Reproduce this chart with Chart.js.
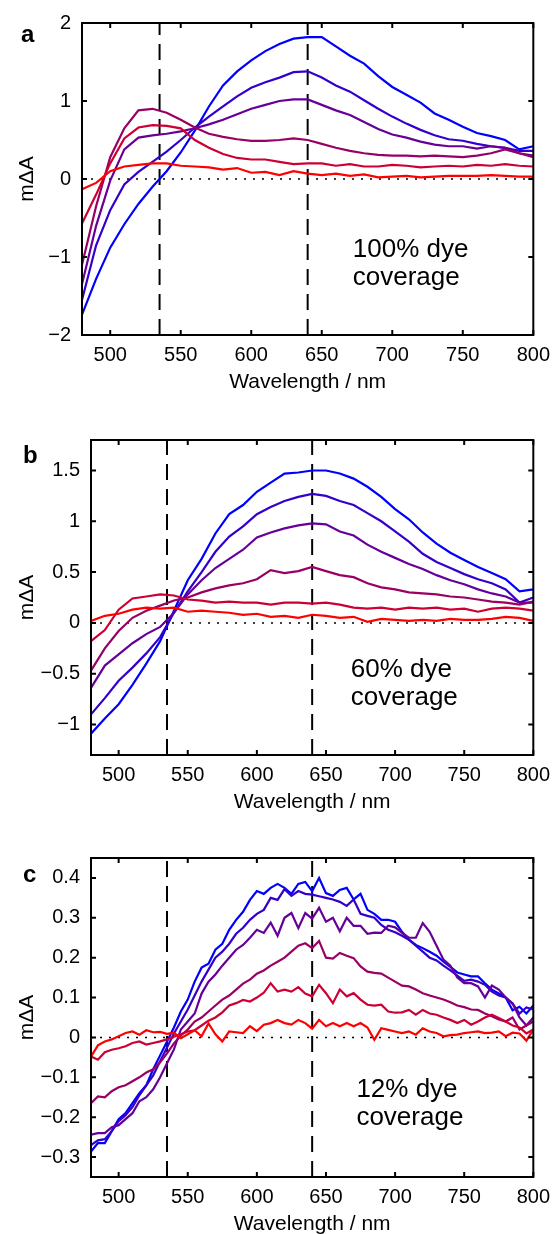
<!DOCTYPE html>
<html>
<head>
<meta charset="utf-8">
<script src="https://cdn.jsdelivr.net/npm/chart.js@4.4.0/dist/chart.umd.min.js"></script>
<style>
html, body { margin: 0; padding: 0; background: #fff; overflow: hidden; }
#wrap { position: relative; width: 558px; height: 1234px; }
canvas { position: absolute; left: 0; }
</style>
</head>
<body>
<div id="wrap">
  <canvas id="ca" width="558" height="400" style="top:0px"></canvas>
  <canvas id="cb" width="558" height="410" style="top:410px"></canvas>
  <canvas id="cc" width="558" height="412" style="top:830px"></canvas>
</div>
<script>
// wavelengths (nm)
const wl10 = [480, 490, 500, 510, 520, 530, 540, 550, 560, 570, 580, 590, 600, 610, 620, 630, 640,
  650, 660, 670, 680, 690, 700, 710, 720, 730, 740, 750, 760, 770, 780, 790, 800];
const wl5 = [480, 485, 490, 495, 500, 505, 510, 515, 520, 525, 530, 535, 540, 545, 550, 555, 560,
  565, 570, 575, 580, 585, 590, 595, 600, 605, 610, 615, 620, 625, 630, 635, 640, 645, 650, 655,
  660, 665, 670, 675, 680, 685, 690, 695, 700, 705, 710, 715, 720, 725, 730, 735, 740, 745, 750,
  755, 760, 765, 770, 775, 780, 785, 790, 795, 800];

const xTicks = [500, 550, 600, 650, 700, 750, 800];
const markerLines = [535, 640];

// panel a: 100% dye coverage
const aRed = [-0.13, -0.05, 0.1, 0.16, 0.18, 0.2, 0.2, 0.17, 0.16, 0.15, 0.12, 0.14, 0.08, 0.09, 0.05, 0.1, 0.07,
  0.05, 0.07, 0.04, 0.06, 0.02, 0.03, 0.04, 0.02, 0.03, 0.04, 0.04, 0.04, 0.05, 0.04, 0.03, 0.03];
const aCrimson = [-0.57, -0.2, 0.2, 0.52, 0.66, 0.69, 0.68, 0.65, 0.5, 0.4, 0.32, 0.27, 0.25, 0.25, 0.22, 0.19, 0.2,
  0.2, 0.17, 0.19, 0.16, 0.16, 0.18, 0.17, 0.15, 0.16, 0.17, 0.16, 0.18, 0.17, 0.19, 0.17, 0.16];
const aMagenta = [-1.1, -0.35, 0.28, 0.65, 0.88, 0.9, 0.85, 0.76, 0.66, 0.58, 0.54, 0.51, 0.49, 0.49, 0.5, 0.52, 0.5,
  0.45, 0.4, 0.36, 0.33, 0.31, 0.3, 0.3, 0.29, 0.3, 0.29, 0.28, 0.3, 0.33, 0.38, 0.33, 0.28];
const aPurple = [-1.35, -0.6, -0.02, 0.38, 0.53, 0.56, 0.58, 0.61, 0.65, 0.7, 0.76, 0.83, 0.9, 0.95, 1.0, 1.02, 1.02,
  0.95, 0.88, 0.82, 0.73, 0.64, 0.57, 0.53, 0.48, 0.44, 0.42, 0.42, 0.39, 0.42, 0.4, 0.33, 0.3];
const aViolet = [-1.55, -0.85, -0.4, -0.07, 0.09, 0.22, 0.35, 0.5, 0.66, 0.8, 0.93, 1.06, 1.17, 1.24, 1.3, 1.37, 1.38,
  1.3, 1.2, 1.12, 1.01, 0.9, 0.8, 0.71, 0.63, 0.56, 0.51, 0.49, 0.45, 0.42, 0.4, 0.36, 0.36];
const aBlue = [-1.74, -1.28, -0.88, -0.58, -0.32, -0.1, 0.1, 0.34, 0.62, 0.93, 1.2, 1.38, 1.52, 1.64, 1.73, 1.8, 1.82,
  1.82, 1.7, 1.58, 1.48, 1.32, 1.18, 1.08, 0.98, 0.84, 0.76, 0.67, 0.59, 0.55, 0.5, 0.38, 0.42];

// panel b: 60% dye coverage
const bRed = [0.02, 0.07, 0.09, 0.13, 0.15, 0.14, 0.15, 0.11, 0.12, 0.11, 0.1, 0.08, 0.09, 0.06, 0.07, 0.05, 0.08,
  0.07, 0.05, 0.06, 0.01, 0.04, 0.03, 0.02, 0.03, 0.02, 0.04, 0.03, 0.03, 0.04, 0.06, 0.05, 0.02];
const bCrimson = [-0.18, -0.07, 0.13, 0.24, 0.26, 0.28, 0.27, 0.23, 0.22, 0.2, 0.21, 0.2, 0.2, 0.18, 0.2, 0.2, 0.19,
  0.2, 0.18, 0.15, 0.14, 0.15, 0.13, 0.15, 0.14, 0.15, 0.13, 0.14, 0.11, 0.14, 0.15, 0.14, 0.12];
const bMagenta = [-0.47, -0.25, -0.08, 0.05, 0.12, 0.17, 0.22, 0.25, 0.3, 0.34, 0.37, 0.39, 0.43, 0.52, 0.49, 0.51, 0.55,
  0.51, 0.47, 0.45, 0.39, 0.35, 0.33, 0.3, 0.29, 0.28, 0.26, 0.25, 0.23, 0.21, 0.2, 0.18, 0.21];
const bPurple = [-0.64, -0.42, -0.31, -0.2, -0.11, -0.04, 0.1, 0.28, 0.42, 0.54, 0.63, 0.72, 0.84, 0.89, 0.93, 0.96, 0.98,
  0.97, 0.9, 0.86, 0.77, 0.7, 0.64, 0.58, 0.53, 0.47, 0.42, 0.38, 0.33, 0.29, 0.26, 0.2, 0.2];
const bViolet = [-0.9, -0.74, -0.57, -0.44, -0.3, -0.14, 0.1, 0.31, 0.5, 0.7, 0.85, 0.95, 1.07, 1.14, 1.2, 1.24, 1.27,
  1.25, 1.2, 1.16, 1.08, 1.0, 0.9, 0.8, 0.68, 0.6, 0.54, 0.48, 0.43, 0.39, 0.33, 0.2, 0.25];
const bBlue = [-1.09, -0.94, -0.8, -0.61, -0.4, -0.18, 0.12, 0.42, 0.63, 0.88, 1.07, 1.16, 1.29, 1.38, 1.47, 1.48, 1.5,
  1.5, 1.47, 1.42, 1.34, 1.24, 1.12, 1.02, 0.89, 0.78, 0.69, 0.62, 0.55, 0.49, 0.43, 0.31, 0.33];

// panel c: 12% dye coverage
const cRed = [-0.048, -0.02, -0.01, -0.005, 0.003, 0.011, 0.015, 0.007, 0.018, 0.013,
  0.014, 0.009, 0.012, -0.002, 0.008, 0.018, 0.003, 0.035, 0.008, -0.01,
  0.015, 0.013, 0.011, 0.028, 0.016, 0.032, 0.036, 0.044, 0.036, 0.032,
  0.044, 0.036, 0.022, 0.044, 0.028, 0.036, 0.028, 0.036, 0.028, 0.036,
  0.025, -0.006, 0.023, 0.019, 0.015, 0.011, 0.015, 0.007, 0.023, 0.015,
  0.011, 0.003, 0.006, 0.007, 0.011, 0.013, 0.015, 0.011, 0.012, 0.015,
  0.003, 0.012, 0.01, -0.008, 0.02];
const cCrimson = [-0.048, -0.056, -0.037, -0.031, -0.027, -0.022, -0.014, -0.01, -0.018, -0.014,
  -0.01, -0.005, 0.002, 0.008, 0.015, 0.018, 0.03, 0.042, 0.05, 0.063,
  0.08, 0.086, 0.094, 0.09, 0.1, 0.112, 0.136, 0.115, 0.12, 0.115,
  0.126, 0.11, 0.103, 0.132, 0.111, 0.086, 0.12, 0.103, 0.111, 0.095,
  0.082, 0.08, 0.082, 0.065, 0.062, 0.063, 0.069, 0.057, 0.069, 0.06,
  0.057, 0.05, 0.044, 0.036, 0.044, 0.032, 0.04, 0.05, 0.057, 0.049,
  0.04, 0.03, 0.025, 0.01, 0.02];
const cMagenta = [-0.165, -0.148, -0.15, -0.135, -0.125, -0.12, -0.11, -0.1, -0.088, -0.08,
  -0.062, -0.04, -0.015, 0.005, 0.02, 0.04, 0.05, 0.065, 0.08, 0.095,
  0.105, 0.12, 0.135, 0.145, 0.16, 0.168, 0.18, 0.19, 0.2, 0.215,
  0.23, 0.236, 0.224, 0.242, 0.2, 0.198, 0.212, 0.205, 0.199, 0.178,
  0.165, 0.162, 0.16, 0.15, 0.14, 0.13, 0.128, 0.12, 0.111, 0.105,
  0.1, 0.095, 0.088, 0.08, 0.076, 0.07, 0.069, 0.06, 0.053, 0.045,
  0.04, 0.05, 0.02, 0.03, 0.04];
const cPurple = [-0.244, -0.24, -0.24, -0.225, -0.22, -0.205, -0.19, -0.16, -0.15, -0.13,
  -0.1, -0.065, -0.03, 0.02, 0.04, 0.06, 0.11, 0.14, 0.158, 0.18,
  0.2, 0.22, 0.232, 0.25, 0.27, 0.262, 0.288, 0.255, 0.3, 0.312,
  0.274, 0.312, 0.298, 0.325, 0.29, 0.3, 0.266, 0.3, 0.28, 0.28,
  0.26, 0.263, 0.262, 0.28, 0.276, 0.262, 0.25, 0.25, 0.287, 0.265,
  0.23, 0.195, 0.18, 0.15, 0.136, 0.136, 0.128, 0.1, 0.13, 0.12,
  0.1, 0.085, 0.05, 0.03, 0.05];
const cViolet = [-0.27, -0.258, -0.255, -0.235, -0.21, -0.195, -0.175, -0.145, -0.12, -0.095,
  -0.06, -0.025, 0.01, 0.04, 0.07, 0.105, 0.14, 0.17, 0.2, 0.215,
  0.235, 0.26, 0.275, 0.295, 0.31, 0.32, 0.35, 0.345, 0.372, 0.355,
  0.367, 0.36, 0.358, 0.354, 0.35, 0.346, 0.34, 0.33, 0.346, 0.31,
  0.305, 0.3, 0.282, 0.27, 0.264, 0.255, 0.245, 0.23, 0.215, 0.2,
  0.193, 0.18, 0.168, 0.155, 0.142, 0.145, 0.14, 0.132, 0.115, 0.105,
  0.1, 0.085, 0.06, 0.075, 0.07];
const cBlue = [-0.286, -0.265, -0.265, -0.235, -0.205, -0.19, -0.165, -0.14, -0.12, -0.08,
  -0.045, -0.01, 0.025, 0.065, 0.095, 0.14, 0.175, 0.185, 0.22, 0.235,
  0.27, 0.295, 0.315, 0.345, 0.367, 0.36, 0.375, 0.385, 0.375, 0.36,
  0.385, 0.39, 0.367, 0.4, 0.362, 0.355, 0.37, 0.375, 0.346, 0.36,
  0.32, 0.31, 0.295, 0.295, 0.29, 0.265, 0.245, 0.232, 0.224, 0.215,
  0.205, 0.19, 0.177, 0.163, 0.158, 0.153, 0.153, 0.136, 0.12, 0.11,
  0.1, 0.068, 0.077, 0.06, 0.08];

// y tick values and labels
const aYTicks = [-2, -1, 0, 1, 2];
const aYLabels = ['\u22122', '\u22121', '0', '1', '2'];
const bYTicks = [-1, -0.5, 0, 0.5, 1, 1.5];
const bYLabels = ['\u22121', '\u22120.5', '0', '0.5', '1', '1.5'];
const cYTicks = [-0.3, -0.2, -0.1, 0, 0.1, 0.2, 0.3, 0.4];
const cYLabels = ['\u22120.3', '\u22120.2', '\u22120.1', '0', '0.1', '0.2', '0.3', '0.4'];

const seriesColors = ['#ff0000', '#cc0033', '#990066', '#660099', '#3300cc', '#0000ff'];

const FONT = "'Liberation Sans', Arial, Helvetica, sans-serif";
Chart.defaults.font.family = FONT;
Chart.defaults.color = '#000';

const framePlugin = {
  id: 'frame',
  afterDatasetsDraw(chart, args, opts) {
    const { ctx, chartArea: a, scales } = chart;
    const x = scales.x, y = scales.y;
    ctx.save();
    ctx.strokeStyle = '#000';
    ctx.lineWidth = 2;
    ctx.strokeRect(a.left, a.top, a.right - a.left, a.bottom - a.top);
    ctx.beginPath();
    const tl = 5;
    x.ticks.forEach(t => {
      const px = x.getPixelForValue(t.value);
      ctx.moveTo(px, a.bottom); ctx.lineTo(px, a.bottom - tl);
      ctx.moveTo(px, a.top); ctx.lineTo(px, a.top + tl);
    });
    y.ticks.forEach(t => {
      const py = y.getPixelForValue(t.value);
      ctx.moveTo(a.left, py); ctx.lineTo(a.left + tl, py);
      ctx.moveTo(a.right, py); ctx.lineTo(a.right - tl, py);
    });
    ctx.stroke();

    // panel letter
    ctx.fillStyle = '#000';
    ctx.textBaseline = 'alphabetic';
    ctx.textAlign = 'left';
    ctx.font = 'bold 24px ' + FONT;
    ctx.fillText(opts.letter, opts.letterX, opts.letterY);

    // coverage note
    ctx.font = '26px ' + FONT;
    const nx = x.getPixelForValue(opts.noteX);
    opts.note.forEach((line, i) => {
      ctx.fillText(line, nx, y.getPixelForValue(opts.noteY[i]));
    });
    ctx.restore();
  }
};

function makePanel(id, canvasTop, canvasH, box, wl, series, yMin, yMax, yTicks, yLabels, frameOpts) {
  const datasets = series.map((s, k) => ({
    data: wl.map((w, i) => ({ x: w, y: s[i] })),
    borderColor: seriesColors[k],
    borderWidth: 2.2,
    pointRadius: 0,
    tension: 0,
    fill: false,
  }));
  markerLines.forEach(m => {
    datasets.push({
      data: [{ x: m, y: yMin }, { x: m, y: yMax }],
      borderColor: '#000',
      borderWidth: 2,
      borderDash: [16, 9],
      pointRadius: 0,
    });
  });
  datasets.push({
    data: [{ x: 480, y: 0 }, { x: 800, y: 0 }],
    borderColor: '#000',
    borderWidth: 1.5,
    borderDash: [2, 7],
    pointRadius: 0,
  });

  return new Chart(document.getElementById(id), {
    type: 'line',
    data: { datasets },
    options: {
      responsive: false,
      animation: false,
      events: [],
      layout: {
        padding: { left: 0, right: 558 - box.right, top: box.top - canvasTop, bottom: 0 },
      },
      plugins: {
        legend: { display: false },
        tooltip: { enabled: false },
        frame: frameOpts,
      },
      scales: {
        x: {
          type: 'linear',
          min: 480,
          max: 800,
          afterBuildTicks: s => { s.ticks = xTicks.map(v => ({ value: v })); },
          afterFit: s => { s.height = canvasH - (box.bottom - canvasTop); },
          ticks: {
            callback: v => String(v),
            font: { size: 20 },
            color: '#000',
            padding: 8,
            maxRotation: 0,
            autoSkip: false,
          },
          grid: { display: false, drawTicks: false },
          border: { display: false },
          title: {
            display: true,
            text: 'Wavelength / nm',
            font: { size: 21 },
            color: '#000',
            padding: { top: 0, bottom: 5 },
          },
        },
        y: {
          type: 'linear',
          min: yMin,
          max: yMax,
          afterBuildTicks: s => { s.ticks = yTicks.map(v => ({ value: v })); },
          afterFit: s => { s.width = box.left; },
          ticks: {
            callback: v => yLabels[yTicks.indexOf(v)],
            font: { size: 20 },
            color: '#000',
            padding: 11,
            autoSkip: false,
          },
          grid: { display: false, drawTicks: false },
          border: { display: false },
          title: {
            display: true,
            text: 'm\u0394A',
            font: { size: 21 },
            color: '#000',
            padding: { top: 15, bottom: 0 },
          },
        },
      },
    },
    plugins: [framePlugin],
  });
}

makePanel('ca', 0, 400, { left: 82, right: 537, top: 19, bottom: 335 }, wl10,
  [aRed, aCrimson, aMagenta, aPurple, aViolet, aBlue], -2, 2, aYTicks, aYLabels,
  { letter: 'a', letterX: 21, letterY: 42, note: ['100% dye', 'coverage'], noteX: 672, noteY: [-1.0, -1.36] });

makePanel('cb', 410, 410, { left: 91, right: 538, top: 440, bottom: 755 }, wl10,
  [bRed, bCrimson, bMagenta, bPurple, bViolet, bBlue], -1.3, 1.8, bYTicks, bYLabels,
  { letter: 'b', letterX: 23, letterY: 53, note: ['60% dye', 'coverage'], noteX: 668, noteY: [-0.53, -0.81] });

makePanel('cc', 830, 412, { left: 91, right: 538, top: 858, bottom: 1177 }, wl5,
  [cRed, cCrimson, cMagenta, cPurple, cViolet, cBlue], -0.35, 0.45, cYTicks, cYLabels,
  { letter: 'c', letterX: 23, letterY: 52, note: ['12% dye', 'coverage'], noteX: 672, noteY: [-0.149, -0.22] });
</script>
</body>
</html>
